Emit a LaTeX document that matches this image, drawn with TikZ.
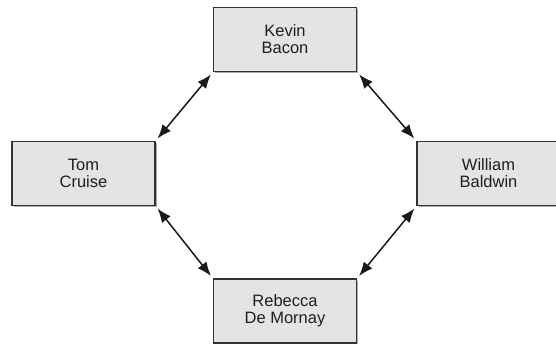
\documentclass[tikz,border=0pt]{standalone}
\usepackage{fontspec}
\setmainfont{Liberation Sans}
\usetikzlibrary{arrows.meta}
\definecolor{boxfill}{HTML}{E4E4E6}
\definecolor{boxline}{HTML}{333333}
\definecolor{shade}{HTML}{AAAAAA}
\begin{document}
\begin{tikzpicture}[x=1pt,y=-1pt,
  actor/.style={draw=boxline, fill=boxfill, line width=1.4pt, minimum width=143pt,
    minimum height=64pt, inner sep=0pt, align=center, font=\fontsize{16.5}{17}\selectfont,
    text=black!88},
  shadowbox/.style={fill=shade, minimum width=143pt, minimum height=64pt, inner sep=0pt},
  link/.style={line width=1.5pt, draw=black!90, {Latex[length=14pt,width=11pt]}-{Latex[length=14pt,width=11pt]}, shorten <=3pt, shorten >=3pt}]
\useasboundingbox (0,0) rectangle (556,344);
\begin{scope}
\clip (0,0) rectangle (556,344);
\node[shadowbox] at (286.5,41.5) {};
\node[shadowbox] at (85,175) {};
\node[shadowbox] at (490,175) {};
\node[shadowbox] at (286.5,313) {};
\node[actor] (kevin) at (285,39.5) {Kevin\\Bacon};
\node[actor] (tom) at (83.5,173.5) {Tom\\Cruise};
\node[actor] (william) at (488.5,173.5) {William\\Baldwin};
\node[actor] (rebecca) at (285,311) {Rebecca\\De Mornay};
\end{scope}
\draw[link] (kevin.south west) -- (tom.north east);
\draw[link] (kevin.south east) -- (william.north west);
\draw[link] (tom.south east) -- (rebecca.north west);
\draw[link] (rebecca.north east) -- (william.south west);
\end{tikzpicture}
\end{document}
